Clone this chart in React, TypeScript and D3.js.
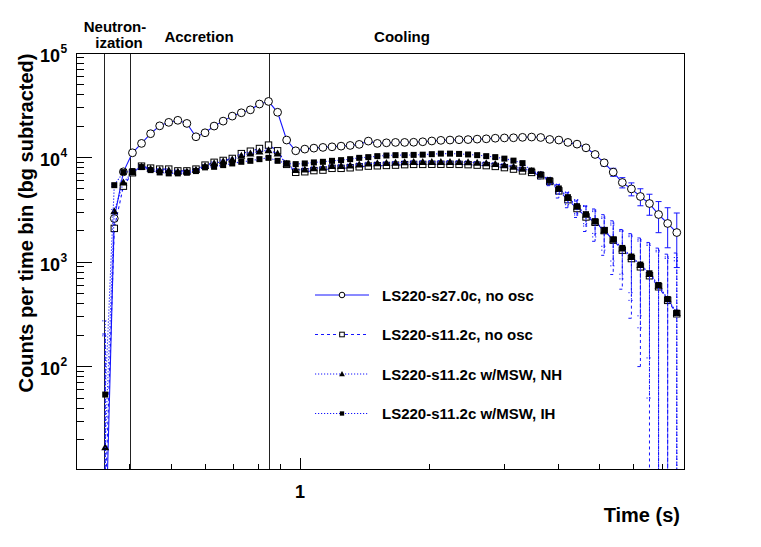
import React from 'react';
import * as d3 from 'd3';

// bin centres (s), log-spaced bins
const times = [
  0.351, 0.3685, 0.387, 0.4063, 0.4266, 0.4479, 0.4703, 0.4938,
  0.5185, 0.5443, 0.5715, 0.6001, 0.6301, 0.6615, 0.6946, 0.7293,
  0.7656, 0.8039, 0.844, 0.8862, 0.9304, 0.9768, 1.0257, 1.077,
  1.1306, 1.1872, 1.2465, 1.3087, 1.374, 1.4428, 1.5145, 1.5903,
  1.6699, 1.7539, 1.8408, 1.9329, 2.0295, 2.1307, 2.2377, 2.3496,
  2.466, 2.5894, 2.7189, 2.854, 2.9974, 3.1477, 3.3037, 3.4696,
  3.6433, 3.8246, 4.0157, 4.217, 4.4281, 4.6473, 4.8798, 5.124,
  5.379, 5.6481, 5.9311, 6.2244, 6.5358, 6.8629, 7.2063, 7.568,
];

const s27NoOsc = [
  1.5, 2610, 7300, 11100, 13650, 16900, 20100, 21700,
  22700, 21200, 15800, 17250, 20000, 22300, 24900, 26800,
  28600, 32500, 34400, 27100, 14700, 11600, 12040, 12300,
  12500, 12660, 12850, 13050, 13360, 14360, 13650, 13830,
  13950, 13950, 14000, 14150, 14400, 14600, 14700, 14800,
  14850, 15000, 15100, 15300, 15400, 15450, 15600, 15700,
  15550, 14900, 14700, 13950, 13430, 12380, 10700, 8900,
  7250, 5770, 5010, 4240, 3630, 2850, 2340, 1916,
];
const s27NoOscErr = [
  1, 150, 260, 320, 360, 400, 430, 450,
  460, 450, 390, 410, 440, 470, 490, 510,
  530, 560, 580, 520, 400, 380, 390, 395,
  400, 405, 410, 415, 420, 430, 425, 430,
  430, 435, 435, 440, 445, 450, 455, 460,
  465, 470, 475, 480, 490, 500, 510, 520,
  530, 540, 550, 560, 570, 580, 600, 620,
  640, 650, 710, 785, 825, 940, 970, 1030,
];

const s11NoOsc = [
  5, 2100, 5320, 7150, 8270, 7920, 7750, 7750,
  7450, 7450, 7750, 8460, 9000, 9380, 9800, 10900,
  11500, 12200, 13150, 11600, 8600, 7220, 7310, 7500,
  7580, 7880, 7880, 7980, 8150, 8280, 8340, 8400,
  8460, 8550, 8600, 8600, 8620, 8620, 8620, 8600,
  8550, 8460, 8370, 8220, 8010, 7750, 7450, 7200,
  6700, 5900, 4800, 3950, 3250, 2700, 2400, 2000,
  1620, 1300, 1080, 900, 740, 580, 430, 320,
];
const s11NoOscErr = [
  200, 120, 200, 240, 260, 250, 250, 250,
  250, 250, 250, 260, 270, 280, 290, 300,
  310, 320, 330, 310, 280, 260, 260, 265,
  265, 270, 270, 275, 280, 280, 285, 285,
  290, 290, 290, 295, 295, 300, 300, 300,
  300, 300, 300, 300, 310, 330, 360, 400,
  450, 520, 700, 640, 580, 740, 820, 840,
  860, 750, 790, 800, 800, 780, 760, 900,
];

const s11NH = [
  16.9, 3070, 5770, 7250, 8200, 7800, 7600, 7550,
  7350, 7350, 7650, 8300, 8800, 9200, 9600, 10400,
  10900, 11400, 11770, 10900, 8700, 7600, 7700, 7900,
  8000, 8300, 8300, 8400, 8600, 8750, 8800, 8850,
  8900, 9000, 9050, 9050, 9080, 9080, 9080, 9050,
  9000, 8900, 8800, 8650, 8450, 8150, 7800, 7450,
  6850, 6000, 5000, 4100, 3380, 2830, 2440, 2000,
  1640, 1350, 1120, 935, 770, 595, 440, 325,
];
const s11NHErr = [
  180, 110, 180, 220, 240, 230, 230, 230,
  230, 230, 230, 240, 250, 260, 270, 280,
  290, 300, 310, 290, 260, 240, 240, 245,
  245, 250, 250, 255, 260, 260, 265, 265,
  270, 270, 270, 275, 275, 280, 280, 280,
  280, 280, 280, 280, 290, 300, 320, 350,
  390, 440, 560, 560, 560, 620, 700, 700,
  720, 660, 690, 700, 720, 700, 680, 780,
];

const s11IH = [
  54, 5440, 7250, 7420, 8100, 7580, 7200, 7050,
  7050, 7150, 7420, 8050, 8150, 8460, 8780, 9100,
  9300, 9650, 9930, 9300, 8780, 8650, 8780, 8980,
  9100, 9300, 9440, 9650, 9930, 10090, 10310, 10460,
  10540, 10540, 10600, 10650, 10770, 10900, 10900, 10830,
  10700, 10540, 10310, 10090, 9760, 9340, 8840, 7500,
  6900, 6075, 5060, 4176, 3423, 2870, 2459, 2016,
  1643, 1365, 1129, 946, 781, 603, 443, 328,
];
const s11IHErr = [
  220, 130, 200, 230, 240, 230, 230, 230,
  230, 230, 230, 240, 245, 250, 255, 260,
  265, 270, 275, 265, 255, 255, 255, 260,
  260, 265, 265, 270, 275, 275, 280, 280,
  285, 285, 285, 290, 290, 290, 290, 290,
  290, 290, 290, 290, 290, 295, 300, 320,
  360, 400, 460, 480, 500, 540, 580, 600,
  620, 600, 620, 640, 660, 650, 640, 700,
];

const legendLabels = [
  'LS220-s27.0c, no osc',
  'LS220-s11.2c, no osc',
  'LS220-s11.2c w/MSW, NH',
  'LS220-s11.2c w/MSW, IH',
];

// phase boundaries (s) and phase names
const phaseBounds = [0.349, 0.4, 0.848];
const phaseNames = ['Neutron-', 'ization', 'Accretion', 'Cooling'];

const yMajorPowers = [2, 3, 4, 5];
const xMajorTicks = [1];
const xMinorTicks = [0.4, 0.5, 0.6, 0.7, 0.8, 0.9, 2, 3, 4, 5, 6, 7];

const W = 761;
const H = 547;
const FONT = '"Liberation Sans", Arial, Helvetica, sans-serif';
const BLUE = '#1414ff';

type MarkerType = 'circle' | 'openSquare' | 'triangle' | 'square';

const Marker: React.FC<{ type: MarkerType; cx: number; cy: number; s?: number }> = ({ type, cx, cy, s = 1 }) => {
  if (type === 'circle') {
    return <circle cx={cx} cy={cy} r={3.9 * s} fill="#fff" stroke="#000" strokeWidth={1} />;
  }
  if (type === 'openSquare') {
    const h = 3.2 * s;
    return <rect x={cx - h} y={cy - h} width={2 * h} height={2 * h} fill="#fff" stroke="#000" strokeWidth={1} />;
  }
  if (type === 'triangle') {
    const h = 4 * s;
    return <path d={`M${cx},${cy - h}L${cx - h},${cy + h * 0.75}L${cx + h},${cy + h * 0.75}Z`} fill="#000" />;
  }
  const h = 3 * s;
  return <rect x={cx - h} y={cy - h} width={2 * h} height={2 * h} fill="#000" />;
};

const App: React.FC = () => {
  const x = d3.scaleLog().domain([0.3, 7.91]).range([76, 685]);
  const y = d3.scaleLog().domain([10.25, 1e5]).range([470, 53]);
  const [left, right] = x.range();
  const [bottom, top] = y.range();

  const series = [
    { name: legendLabels[0], values: s27NoOsc, errs: s27NoOscErr, dash: undefined, marker: 'circle' as MarkerType },
    { name: legendLabels[1], values: s11NoOsc, errs: s11NoOscErr, dash: '3,3', marker: 'openSquare' as MarkerType },
    { name: legendLabels[2], values: s11NH, errs: s11NHErr, dash: '1.2,1.8', marker: 'triangle' as MarkerType },
    { name: legendLabels[3], values: s11IH, errs: s11IHErr, dash: '1.2,1.8', marker: 'square' as MarkerType },
  ];

  const line = d3.line<number>()
    .x((_, i) => x(times[i]))
    .y(d => y(d));

  const yMinor: number[] = [];
  [1, 2, 3, 4].forEach(p => {
    for (let m = 2; m <= 9; m++) {
      const v = m * Math.pow(10, p);
      if (v >= 10.25 && v <= 1e5) yMinor.push(v);
    }
  });

  const legendY = [295, 334.5, 374, 413.5];

  return (
    <div style={{ position: 'absolute', left: 0, top: 0 }}>
      <svg width={W} height={H} style={{ display: 'block', background: '#fff' }} fontFamily={FONT}>
        <defs>
          <clipPath id="plotClip">
            <rect x={left} y={top} width={right - left} height={bottom - top} />
          </clipPath>
        </defs>

        {/* phase labels */}
        <g fontWeight="bold" fontSize={15} textAnchor="middle" fill="#000">
          <text x={115} y={31.5}>{phaseNames[0]}</text>
          <text x={119} y={48}>{phaseNames[1]}</text>
          <text x={199} y={42}>{phaseNames[2]}</text>
          <text x={402} y={42}>{phaseNames[3]}</text>
        </g>

        {/* phase boundaries */}
        {phaseBounds.map(b => (
          <line key={b} x1={Math.round(x(b)) + 0.5} x2={Math.round(x(b)) + 0.5} y1={top} y2={bottom}
            stroke="#222" strokeWidth={1} />
        ))}

        {/* series */}
        <g clipPath="url(#plotClip)">
          {series.map((s, si) => (
            <g key={si}>
              <path d={line(s.values) || ''} fill="none" stroke={BLUE} strokeWidth={1.1}
                strokeDasharray={s.dash} />
              {s.values.map((v, i) => {
                const e = s.errs[i];
                const cx = x(times[i]);
                const yTop = y(v + e);
                const lo = v - e;
                const yBot = lo > 0 ? y(lo) : bottom + 20;
                return (
                  <g key={i} stroke={BLUE} strokeWidth={1} strokeDasharray={s.dash}>
                    <line x1={cx} x2={cx} y1={yTop} y2={yBot} />
                    <line x1={cx - 3} x2={cx + 3} y1={yTop} y2={yTop} strokeDasharray={undefined} />
                    {lo > 0 && <line x1={cx - 3} x2={cx + 3} y1={yBot} y2={yBot} strokeDasharray={undefined} />}
                  </g>
                );
              })}
              {s.values.map((v, i) => (
                <Marker key={'m' + i} type={s.marker} cx={x(times[i])} cy={y(v)} />
              ))}
            </g>
          ))}
        </g>

        {/* frame */}
        <rect x={left + 0.5} y={top + 0.5} width={right - left - 1} height={bottom - top - 1}
          fill="none" stroke="#000" strokeWidth={1} />

        {/* axis ticks */}
        <g stroke="#000" strokeWidth={1} shapeRendering="crispEdges">
          {yMajorPowers.map(p => (
            <line key={p} x1={left} x2={left + 16} y1={y(Math.pow(10, p))} y2={y(Math.pow(10, p))} />
          ))}
          {yMinor.map(v => (
            <line key={v} x1={left} x2={left + 8} y1={y(v)} y2={y(v)} />
          ))}
          {xMajorTicks.map(t => (
            <line key={t} x1={x(t)} x2={x(t)} y1={bottom} y2={bottom - 12.5} />
          ))}
          {xMinorTicks.map(t => (
            <line key={t} x1={x(t)} x2={x(t)} y1={bottom} y2={bottom - 6.5} />
          ))}
        </g>

        {/* tick labels */}
        <g fontWeight="bold" fill="#000">
          {yMajorPowers.map(p => {
            const ty = y(Math.pow(10, p));
            return (
              <g key={p}>
                <text x={60} y={ty + 8.5} fontSize={18} textAnchor="end">10</text>
                <text x={60.5} y={ty - 0.5} fontSize={12}>{p}</text>
              </g>
            );
          })}
          {xMajorTicks.map(t => (
            <text key={t} x={x(t)} y={498} fontSize={18} textAnchor="middle">{t}</text>
          ))}
        </g>

        {/* axis titles */}
        <text x={680} y={521.5} fontSize={20} fontWeight="bold" textAnchor="end">Time (s)</text>
        <text transform="translate(33,223) rotate(-90)" fontSize={20} fontWeight="bold" textAnchor="middle">
          Counts per time bin (bg subtracted)
        </text>

        {/* legend */}
        {series.map((s, i) => (
          <g key={'leg' + i}>
            <line x1={315} x2={369} y1={legendY[i]} y2={legendY[i]} stroke={BLUE} strokeWidth={1}
              strokeDasharray={s.dash} />
            <Marker type={s.marker} cx={342} cy={legendY[i]} s={0.72} />
            <text x={382} y={legendY[i] + 5.5} fontSize={15} fontWeight="bold">{s.name}</text>
          </g>
        ))}
      </svg>
    </div>
  );
};

export default App;
